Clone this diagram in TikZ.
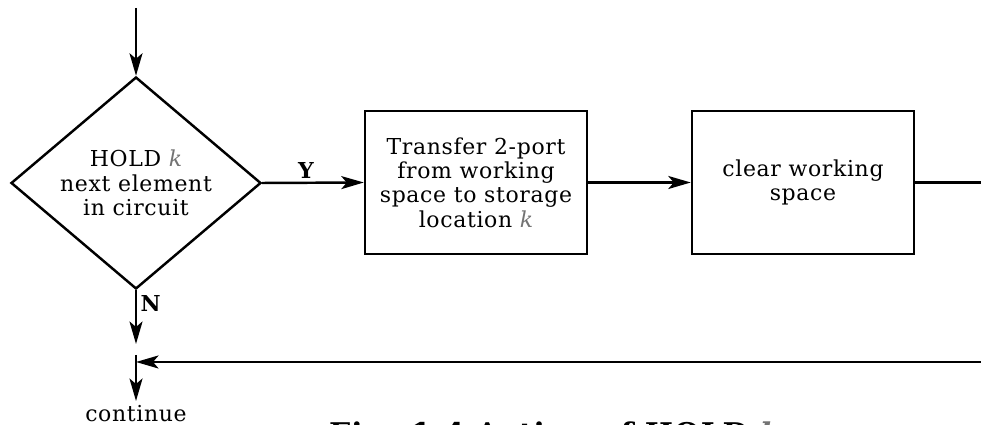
\documentclass[tikz,border=0pt]{standalone}
\usepackage{fontspec}
\setmainfont{DejaVu Serif}[LetterSpace=3]
\usetikzlibrary{shapes.geometric,arrows.meta}
\newcommand{\kvar}{{\color{black!55}\itshape k}}
\begin{document}
\begin{tikzpicture}[
    line width=1.4pt,
    every node/.style={font=\fontsize{12.5}{13.9}\selectfont},
    decision/.style={draw, diamond, aspect=1.18, minimum width=5cm, minimum height=4.24cm, inner sep=0pt, align=center},
    stepbox/.style={draw, rectangle, minimum width=4.44cm, minimum height=2.86cm, align=center},
    flow/.style={-{Stealth[length=4.5mm,width=2.6mm,inset=1.1mm]}},
    tag/.style={inner sep=1pt, font=\fontsize{12.5}{13.9}\selectfont\bfseries}
]
    \useasboundingbox (0,0) rectangle (19.62,-8.5);
    \clip (0,0) rectangle (19.62,-8.5);

    % nodes
    \coordinate (entry) at (2.72,-0.16);
    \node[decision] (hold) at (2.72,-3.66) {HOLD \kvar\\next element\\in circuit};
    \node[stepbox] (transfer) at (9.52,-3.65) {Transfer 2-port\\from working\\space to storage\\location \kvar};
    \node[stepbox] (clear) at (16.06,-3.65) {clear working\\space};
    \coordinate (exitR) at (19.7,-3.65);
    \coordinate (backR) at (19.7,-7.24);
    \coordinate (join) at (2.72,-7.24);
    \coordinate (ntip) at (2.72,-6.88);
    \node[inner sep=2pt] (cont) at (2.72,-8.28) {continue};

    % connectors
    \draw[flow] (entry) -- (hold.north);
    \draw[flow] (hold.east) -- node[tag, above=1pt, pos=0.43] {Y} (transfer.west);
    \draw[flow] (transfer.east) -- (clear.west);
    \draw (clear.east) -- (exitR);
    \draw[flow] (hold.south) -- node[tag, right=1pt, pos=0.25] {N} (ntip);
    \draw[flow] (backR) -- (join);
    \draw[flow] (join) ++(0,0.14) -- (cont.north);

    % caption (cut off at the page edge)
    \node[anchor=north west, inner sep=0pt, font=\fontsize{17}{19}\selectfont\bfseries] (caption) at (6.56,-8.42) {Fig. 1.4 Action of HOLD \kvar};
\end{tikzpicture}
\end{document}
